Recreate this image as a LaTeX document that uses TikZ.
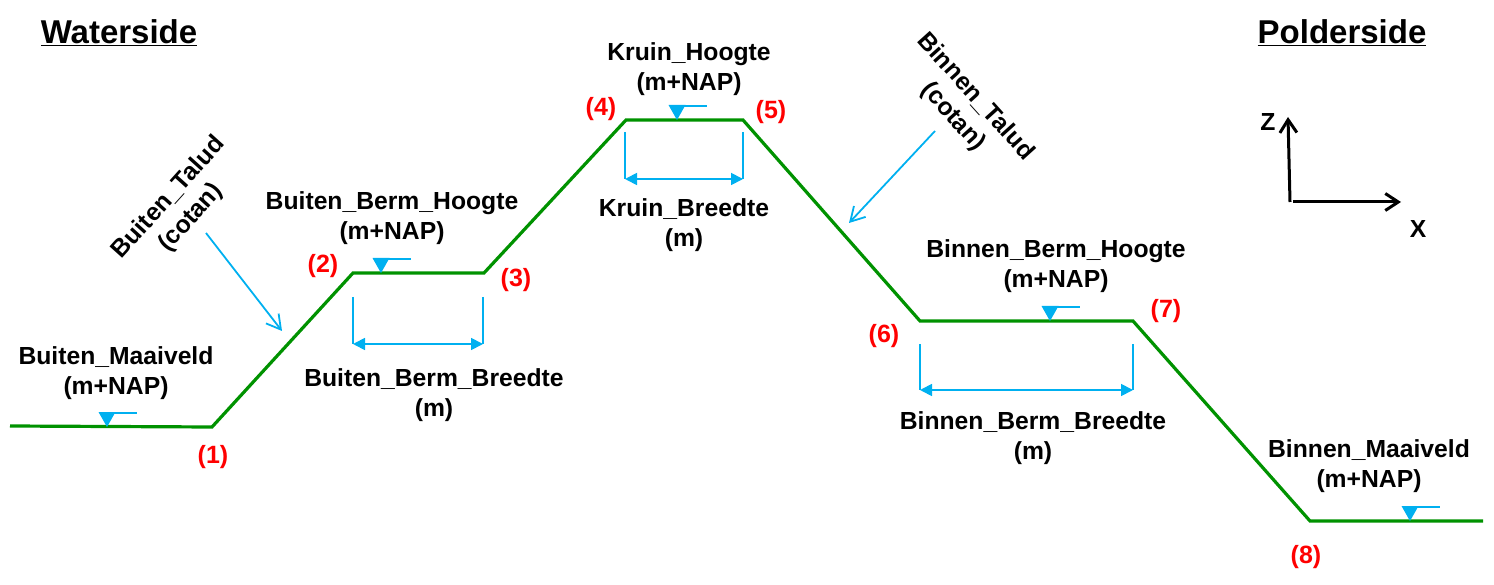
\documentclass[tikz,border=0pt]{standalone}
\usepackage{fontspec}
\setmainfont{Liberation Sans}
\usetikzlibrary{arrows.meta}
\definecolor{dike}{RGB}{0,146,0}
\definecolor{sky}{RGB}{0,176,240}
\newcommand{\wlmark}[2]{%
  \fill[sky] (#1-8.5,#2-15) -- (#1+8.5,#2-15) -- (#1,#2) -- cycle;
  \draw[skyline] (#1+6,#2-14) -- (#1+30,#2-14);
}
\tikzset{
  x=1pt,y=-1pt,
  lbl/.style={font=\bfseries\fontsize{24.7}{30}\selectfont,align=center,inner sep=0pt,text=black},
  ttl/.style={font=\bfseries\fontsize{33}{38}\selectfont,inner sep=0pt,text=black},
  pt/.style={font=\bfseries\fontsize{25}{30}\selectfont,inner sep=0pt,text=red},
  skyline/.style={draw=sky,line width=1.8pt},
  dimarrow/.style={draw=sky,line width=1.8pt,{Triangle[length=12pt,width=12pt]}-{Triangle[length=12pt,width=12pt]}},
  leader/.style={draw=sky,line width=1.8pt,-{Straight Barb[length=14pt,width=16pt,line width=1.8pt]}},
  axis/.style={draw=black,line width=3pt,-{Straight Barb[length=13pt,width=17pt,line width=3pt]}},
  profile/.style={draw=dike,line width=3.2pt,line join=miter},
}
\begin{document}
\begin{tikzpicture}
\useasboundingbox (0,0) rectangle (1494,585);
\coordinate (p0) at (10,426);
\coordinate (p1) at (212,427);
\coordinate (p2) at (353,273);
\coordinate (p3) at (484,273);
\coordinate (p4) at (626,120);
\coordinate (p5) at (743,120);
\coordinate (p6) at (920,321);
\coordinate (p7) at (1133,321);
\coordinate (p8) at (1310,521);
\coordinate (p9) at (1483,521);
\draw[profile] (p0)--(p1)--(p2)--(p3)--(p4)--(p5)--(p6)--(p7)--(p8)--(p9);
\wlmark{107}{427}
\wlmark{381}{273}
\wlmark{677}{120}
\wlmark{1050}{321}
\wlmark{1410}{521}
% dimension brackets
\coordinate (d1a) at (353,297); \coordinate (d1b) at (353,344);
\coordinate (d1c) at (483,297); \coordinate (d1d) at (483,344);
\draw[skyline] (d1a)--(d1b) (d1c)--(d1d);
\draw[dimarrow] (d1b)--(d1d);
\coordinate (d2a) at (625,132); \coordinate (d2b) at (625,179);
\coordinate (d2c) at (743,132); \coordinate (d2d) at (743,179);
\draw[skyline] (d2a)--(d2b) (d2c)--(d2d);
\draw[dimarrow] (d2b)--(d2d);
\coordinate (d3a) at (920,344); \coordinate (d3b) at (920,390);
\coordinate (d3c) at (1133,344); \coordinate (d3d) at (1133,390);
\draw[skyline] (d3a)--(d3b) (d3c)--(d3d);
\draw[dimarrow] (d3b)--(d3d);
% leaders
\coordinate (l1a) at (206,233); \coordinate (l1b) at (282,331);
\coordinate (l2a) at (935,131); \coordinate (l2b) at (849,223);
\draw[leader] (l1a)--(l1b);
\draw[leader] (l2a)--(l2b);
% axes
\coordinate (z0) at (1290,202); \coordinate (z1) at (1288,117);
\coordinate (x0) at (1293,202); \coordinate (x1) at (1401,202);
\draw[axis] (z0)--(z1);
\draw[axis] (x0)--(x1);
\node[lbl] (zl) at (1268,122) {Z};
\node[lbl] (xl) at (1418,229) {X};
% titles
\node[ttl] (w) at (119,33) {\underline{Waterside}};
\node[ttl] (ps) at (1342,33) {\underline{Polderside}};
% labels
\node[lbl] (t1) at (116,373) {Buiten\_Maaiveld\\(m+NAP)};
\node[lbl] (t2) at (392,218) {Buiten\_Berm\_Hoogte\\(m+NAP)};
\node[lbl] (t3) at (434,395) {Buiten\_Berm\_Breedte\\(m)};
\node[lbl] (t4) at (689,69) {Kruin\_Hoogte\\(m+NAP)};
\node[lbl] (t5) at (684,225) {Kruin\_Breedte\\(m)};
\node[lbl] (t6) at (1056,266) {Binnen\_Berm\_Hoogte\\(m+NAP)};
\node[lbl] (t7) at (1033,438) {Binnen\_Berm\_Breedte\\(m)};
\node[lbl] (t8) at (1369,466) {Binnen\_Maaiveld\\(m+NAP)};
\node[lbl,rotate=48] (t9) at (180,208) {Buiten\_Talud\\(cotan)};
\node[lbl,rotate=-48] (t10) at (964,107) {Binnen\_Talud\\(cotan)};
% numbers
\node[pt] (n1) at (213,457) {(1)};
\node[pt] (n2) at (323,266) {(2)};
\node[pt] (n3) at (516,280) {(3)};
\node[pt] (n4) at (601,109) {(4)};
\node[pt] (n5) at (771,112) {(5)};
\node[pt] (n6) at (884,336) {(6)};
\node[pt] (n7) at (1166,311) {(7)};
\node[pt] (n8) at (1306,557) {(8)};
\end{tikzpicture}
\end{document}
